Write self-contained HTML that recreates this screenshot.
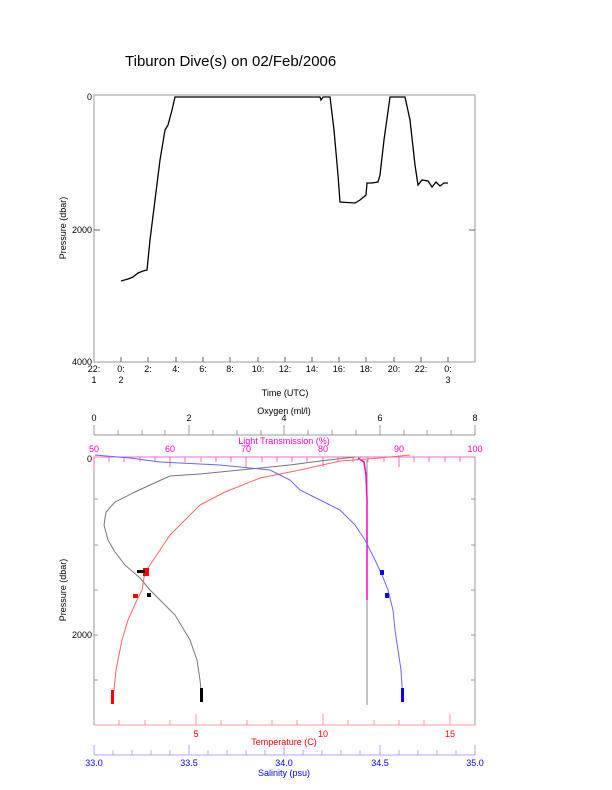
<!DOCTYPE html>
<html><head><style>
body{margin:0;background:#fff}
svg text{font-family:"Liberation Sans",sans-serif;font-size:9px}
</style></head><body>
<svg width="612" height="785" xmlns="http://www.w3.org/2000/svg">
<rect width="612" height="785" fill="#fff"/>
<text x="125" y="66" style="font-size:15px">Tiburon Dive(s) on 02/Feb/2006</text>
<!-- top plot -->
<rect x="94" y="95" width="381" height="267" fill="none" stroke="#999" stroke-width="1"/>
<g fill="#000" text-anchor="end">
<text x="92" y="100">0</text><text x="92" y="233">2000</text><text x="92" y="365">4000</text>
</g>
<g stroke="#666"><line x1="94" y1="230" x2="100" y2="230"/><line x1="475" y1="230" x2="469" y2="230"/></g>
<text transform="translate(66,228) rotate(-90)" text-anchor="middle">Pressure (dbar)</text>
<g text-anchor="middle" fill="#000">
<text x="94" y="372">22:</text><text x="94" y="383">1</text>
<text x="121" y="372">0:</text><text x="121" y="383">2</text>
<text x="148" y="372">2:</text><text x="176" y="372">4:</text><text x="203" y="372">6:</text>
<text x="230" y="372">8:</text><text x="258" y="372">10:</text><text x="285" y="372">12:</text>
<text x="312" y="372">14:</text><text x="339" y="372">16:</text><text x="366" y="372">18:</text>
<text x="394" y="372">20:</text><text x="421" y="372">22:</text>
<text x="448" y="372">0:</text><text x="448" y="383">3</text>
<text x="285" y="396">Time (UTC)</text>
</g>
<g stroke="#666">
<line x1="121" y1="362" x2="121" y2="357"/><line x1="148" y1="362" x2="148" y2="357"/><line x1="176" y1="362" x2="176" y2="357"/><line x1="203" y1="362" x2="203" y2="357"/><line x1="230" y1="362" x2="230" y2="357"/><line x1="258" y1="362" x2="258" y2="357"/><line x1="285" y1="362" x2="285" y2="357"/><line x1="312" y1="362" x2="312" y2="357"/><line x1="339" y1="362" x2="339" y2="357"/><line x1="366" y1="362" x2="366" y2="357"/><line x1="394" y1="362" x2="394" y2="357"/><line x1="421" y1="362" x2="421" y2="357"/><line x1="448" y1="362" x2="448" y2="357"/>
</g>
<polyline fill="none" stroke="#000" stroke-width="1.3" points="121,281 128,279 133,277 138,273 143,271 147,270 150,240 155,200 160,160 165,130 168,125 172,110 175,97 320,97 321,100 323,97 330,97 334,130 338,175 340,202 355,203 360,200 366,195 367,183 372,183 378,182 380,175 384,140 390,97 405,97 410,120 415,165 418,185 422,180 428,181 432,187 436,182 440,186 444,183 448,183"/>
<!-- bottom plot -->
<rect x="94" y="457" width="381" height="268" fill="none" stroke="#999"/>
<line x1="94" y1="457" x2="475" y2="457" stroke="#f6c"/>
<line x1="94" y1="725" x2="475" y2="725" stroke="#f99"/>
<!-- oxygen axis -->
<line x1="94" y1="435" x2="475" y2="435" stroke="#999"/>
<g stroke="#999">
<line x1="94" y1="425" x2="94" y2="435"/><line x1="189" y1="425" x2="189" y2="435"/><line x1="284" y1="425" x2="284" y2="435"/><line x1="380" y1="425" x2="380" y2="435"/><line x1="475" y1="425" x2="475" y2="435"/>
<line x1="118" y1="430" x2="118" y2="435"/><line x1="142" y1="430" x2="142" y2="435"/><line x1="165" y1="430" x2="165" y2="435"/><line x1="213" y1="430" x2="213" y2="435"/><line x1="237" y1="430" x2="237" y2="435"/><line x1="261" y1="430" x2="261" y2="435"/><line x1="308" y1="430" x2="308" y2="435"/><line x1="332" y1="430" x2="332" y2="435"/><line x1="356" y1="430" x2="356" y2="435"/><line x1="404" y1="430" x2="404" y2="435"/><line x1="427" y1="430" x2="427" y2="435"/><line x1="451" y1="430" x2="451" y2="435"/>
</g>
<g text-anchor="middle">
<text x="94" y="421">0</text><text x="189" y="421">2</text><text x="284" y="421">4</text><text x="380" y="421">6</text><text x="475" y="421">8</text>
<text x="284" y="414">Oxygen (ml/l)</text>
</g>
<g text-anchor="middle" fill="#f0c">
<text x="284" y="444">Light Transmission (%)</text>
<text x="94" y="452">50</text><text x="170" y="452">60</text><text x="246" y="452">70</text><text x="323" y="452">80</text><text x="399" y="452">90</text><text x="475" y="452">100</text>
</g>
<g stroke="#f6c" id="lt">
<line x1="94" y1="457" x2="94" y2="467"/><line x1="170" y1="457" x2="170" y2="467"/><line x1="246" y1="457" x2="246" y2="467"/><line x1="323" y1="457" x2="323" y2="467"/><line x1="399" y1="457" x2="399" y2="467"/>
<line x1="109" y1="457" x2="109" y2="462"/><line x1="124" y1="457" x2="124" y2="462"/><line x1="140" y1="457" x2="140" y2="462"/><line x1="155" y1="457" x2="155" y2="462"/><line x1="185" y1="457" x2="185" y2="462"/><line x1="201" y1="457" x2="201" y2="462"/><line x1="216" y1="457" x2="216" y2="462"/><line x1="231" y1="457" x2="231" y2="462"/><line x1="262" y1="457" x2="262" y2="462"/><line x1="277" y1="457" x2="277" y2="462"/><line x1="292" y1="457" x2="292" y2="462"/><line x1="307" y1="457" x2="307" y2="462"/><line x1="338" y1="457" x2="338" y2="462"/><line x1="353" y1="457" x2="353" y2="462"/><line x1="368" y1="457" x2="368" y2="462"/><line x1="384" y1="457" x2="384" y2="462"/><line x1="414" y1="457" x2="414" y2="462"/><line x1="429" y1="457" x2="429" y2="462"/><line x1="445" y1="457" x2="445" y2="462"/><line x1="460" y1="457" x2="460" y2="462"/>
</g>
<g text-anchor="end"><text x="92" y="462">0</text><text x="92" y="638">2000</text></g>
<g stroke="#999">
<line x1="94" y1="499" x2="98" y2="499"/><line x1="94" y1="545" x2="98" y2="545"/><line x1="94" y1="590" x2="98" y2="590"/><line x1="94" y1="635" x2="98" y2="635"/><line x1="94" y1="680" x2="98" y2="680"/>
<line x1="475" y1="499" x2="471" y2="499"/><line x1="475" y1="545" x2="471" y2="545"/><line x1="475" y1="590" x2="471" y2="590"/><line x1="475" y1="635" x2="471" y2="635"/><line x1="475" y1="680" x2="471" y2="680"/>
</g>
<text transform="translate(66,590) rotate(-90)" text-anchor="middle">Pressure (dbar)</text>
<!-- temperature axis -->
<g stroke="#f99">
<line x1="196" y1="714" x2="196" y2="725"/><line x1="323" y1="714" x2="323" y2="725"/><line x1="450" y1="714" x2="450" y2="725"/>
<line x1="119" y1="720" x2="119" y2="725"/><line x1="145" y1="720" x2="145" y2="725"/><line x1="170" y1="720" x2="170" y2="725"/><line x1="221" y1="720" x2="221" y2="725"/><line x1="247" y1="720" x2="247" y2="725"/><line x1="272" y1="720" x2="272" y2="725"/><line x1="297" y1="720" x2="297" y2="725"/><line x1="348" y1="720" x2="348" y2="725"/><line x1="374" y1="720" x2="374" y2="725"/><line x1="399" y1="720" x2="399" y2="725"/><line x1="424" y1="720" x2="424" y2="725"/>
</g>
<g text-anchor="middle" fill="#f00">
<text x="196" y="737">5</text><text x="323" y="737">10</text><text x="450" y="737">15</text>
<text x="284" y="745">Temperature (C)</text>
</g>
<!-- salinity axis -->
<line x1="94" y1="755" x2="475" y2="755" stroke="#aaf"/>
<g stroke="#aaf">
<line x1="94" y1="745" x2="94" y2="755"/><line x1="189" y1="745" x2="189" y2="755"/><line x1="284" y1="745" x2="284" y2="755"/><line x1="380" y1="745" x2="380" y2="755"/><line x1="475" y1="745" x2="475" y2="755"/>
<line x1="113" y1="750" x2="113" y2="755"/><line x1="132" y1="750" x2="132" y2="755"/><line x1="151" y1="750" x2="151" y2="755"/><line x1="170" y1="750" x2="170" y2="755"/><line x1="208" y1="750" x2="208" y2="755"/><line x1="227" y1="750" x2="227" y2="755"/><line x1="246" y1="750" x2="246" y2="755"/><line x1="265" y1="750" x2="265" y2="755"/><line x1="303" y1="750" x2="303" y2="755"/><line x1="322" y1="750" x2="322" y2="755"/><line x1="341" y1="750" x2="341" y2="755"/><line x1="360" y1="750" x2="360" y2="755"/><line x1="399" y1="750" x2="399" y2="755"/><line x1="418" y1="750" x2="418" y2="755"/><line x1="437" y1="750" x2="437" y2="755"/><line x1="456" y1="750" x2="456" y2="755"/>
</g>
<g text-anchor="middle" fill="#00f">
<text x="94" y="766">33.0</text><text x="189" y="766">33.5</text><text x="284" y="766">34.0</text><text x="380" y="766">34.5</text><text x="475" y="766">35.0</text>
<text x="284" y="776">Salinity (psu)</text>
</g>
<!-- data -->
<line x1="367" y1="460" x2="367" y2="705" stroke="#888"/>
<polyline fill="none" stroke="#f0c" stroke-width="1.5" points="358,458 364,462 366,475 367,500 367,600"/>
<polyline fill="none" stroke="#777" stroke-width="1" points="355,457 320,461 290,465 240,470 200,474 170,476 150,485 135,492 115,502 106,512 104,525 108,540 115,552 125,565 140,578 150,590 160,600 175,615 190,640 197,660 200,680 202,700"/>
<polyline fill="none" stroke="#f66" stroke-width="1" points="410,455 380,458 340,461 300,470 260,478 225,492 200,505 185,520 170,535 160,550 150,565 145,572 142,590 137,600 128,620 122,640 116,670 113,700"/>
<polyline fill="none" stroke="#66f" stroke-width="1" points="95,455 130,458 160,462 220,465 270,470 290,480 300,490 320,500 340,510 355,525 365,540 375,560 382,575 388,590 393,610 395,630 398,650 401,670 403,700"/>
<g fill="#f00"><rect x="143" y="568" width="6" height="8"/><rect x="133" y="594" width="5" height="4"/><rect x="111" y="690" width="3" height="14"/></g>
<g fill="#000"><rect x="137" y="570" width="8" height="3"/><rect x="147" y="593" width="4" height="4"/><rect x="200" y="688" width="3" height="14"/></g>
<g fill="#00f"><rect x="380" y="570" width="4" height="5"/><rect x="385" y="593" width="4" height="5"/><rect x="401" y="688" width="3" height="14"/></g>
</svg>
</body></html>
